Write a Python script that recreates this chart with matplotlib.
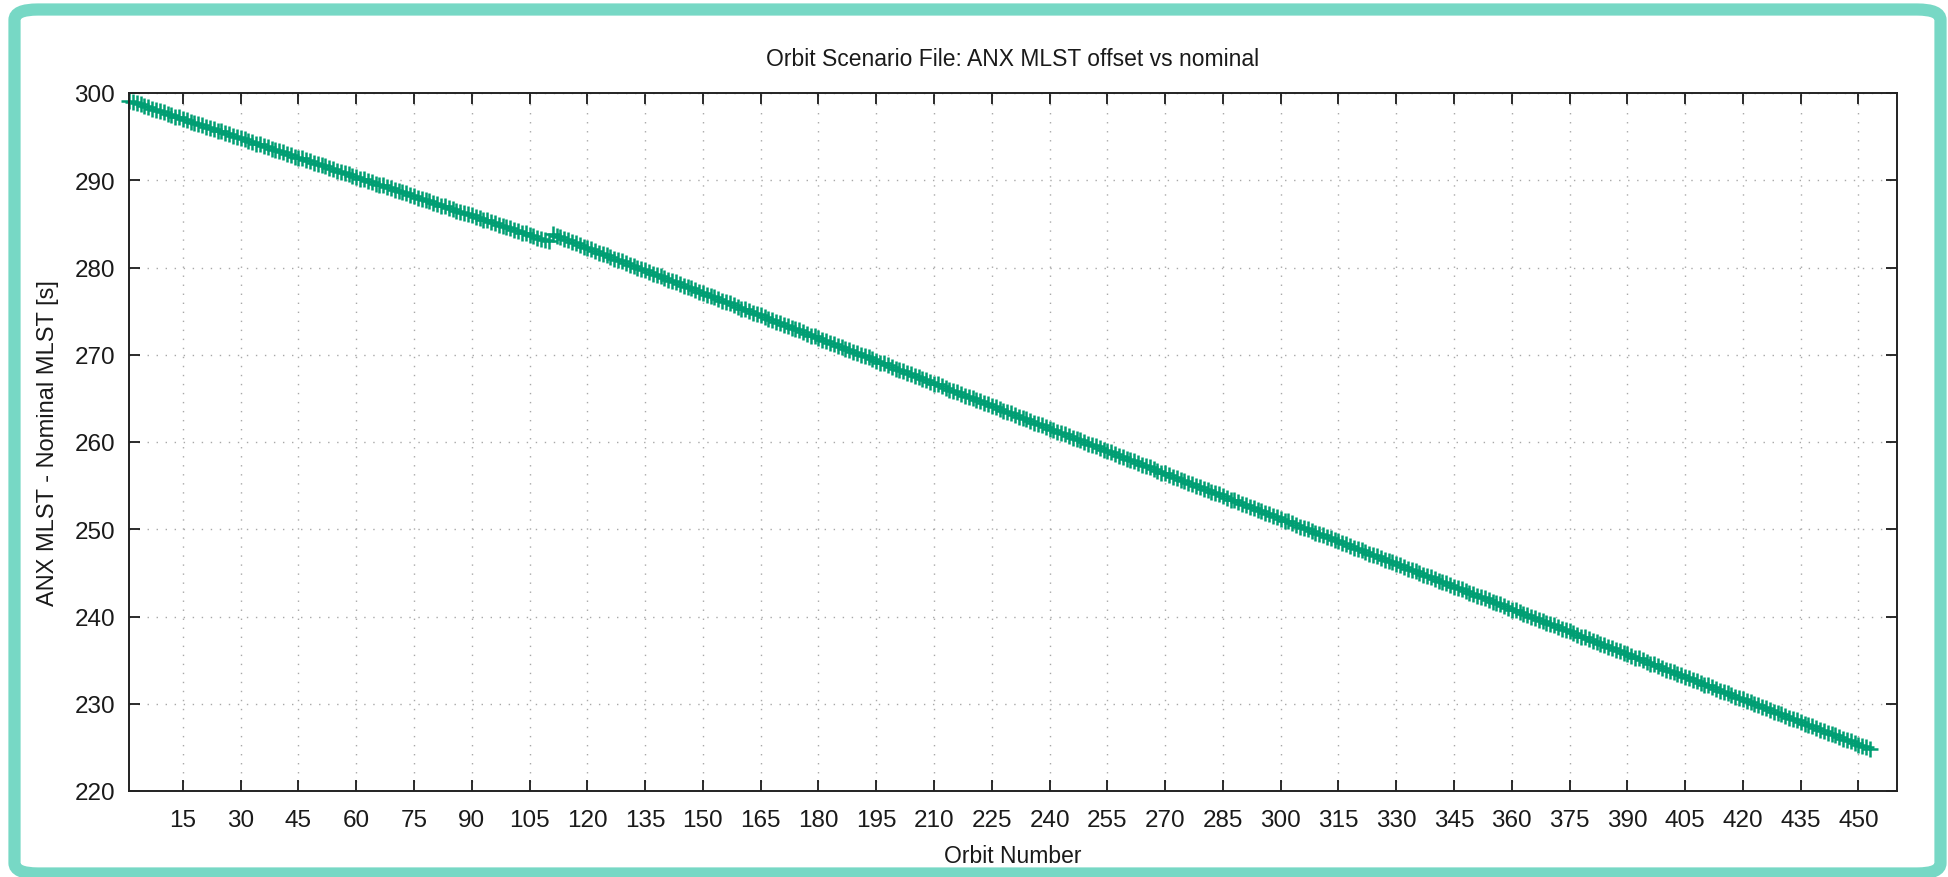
import matplotlib
matplotlib.use('Agg')
import matplotlib.pyplot as plt
from matplotlib.patches import FancyBboxPatch

plt.rcParams['font.family'] = ['Liberation Sans', 'DejaVu Sans']

# ANX MLST - nominal MLST [s], one value per orbit (orbits 1..453)
# first arc: orbits 1..110
offset_arc1 = [
    299.1, 299.0, 298.8, 298.7, 298.5, 298.4, 298.2, 298.1, 297.9, 297.8,
    297.6, 297.5, 297.3, 297.2, 297.0, 296.9, 296.7, 296.6, 296.4, 296.3,
    296.1, 296.0, 295.9, 295.7, 295.6, 295.4, 295.3, 295.1, 295.0, 294.8,
    294.7, 294.5, 294.4, 294.2, 294.1, 293.9, 293.8, 293.6, 293.5, 293.3,
    293.2, 293.0, 292.9, 292.7, 292.6, 292.5, 292.3, 292.2, 292.0, 291.9,
    291.7, 291.6, 291.4, 291.3, 291.1, 291.0, 290.8, 290.7, 290.5, 290.4,
    290.2, 290.1, 289.9, 289.8, 289.6, 289.5, 289.4, 289.2, 289.1, 288.9,
    288.8, 288.6, 288.5, 288.3, 288.2, 288.0, 287.9, 287.7, 287.6, 287.4,
    287.3, 287.1, 287.0, 286.8, 286.7, 286.5, 286.4, 286.2, 286.1, 286.0,
    285.8, 285.7, 285.5, 285.4, 285.2, 285.1, 284.9, 284.8, 284.6, 284.5,
    284.3, 284.2, 284.0, 283.9, 283.7, 283.6, 283.4, 283.3, 283.1, 283.0,
]
# second arc: orbits 111..453
offset_arc2 = [
    283.8, 283.6, 283.5, 283.3, 283.1, 282.9, 282.8, 282.6, 282.4, 282.2,
    282.1, 281.9, 281.7, 281.6, 281.4, 281.2, 281.0, 280.9, 280.7, 280.5,
    280.3, 280.2, 280.0, 279.8, 279.7, 279.5, 279.3, 279.1, 279.0, 278.8,
    278.6, 278.5, 278.3, 278.1, 277.9, 277.8, 277.6, 277.4, 277.2, 277.1,
    276.9, 276.7, 276.6, 276.4, 276.2, 276.0, 275.9, 275.7, 275.5, 275.3,
    275.2, 275.0, 274.8, 274.7, 274.5, 274.3, 274.1, 274.0, 273.8, 273.6,
    273.4, 273.3, 273.1, 272.9, 272.8, 272.6, 272.4, 272.2, 272.1, 271.9,
    271.7, 271.6, 271.4, 271.2, 271.0, 270.9, 270.7, 270.5, 270.3, 270.2,
    270.0, 269.8, 269.7, 269.5, 269.3, 269.1, 269.0, 268.8, 268.6, 268.4,
    268.3, 268.1, 267.9, 267.8, 267.6, 267.4, 267.2, 267.1, 266.9, 266.7,
    266.6, 266.4, 266.2, 266.0, 265.9, 265.7, 265.5, 265.3, 265.2, 265.0,
    264.8, 264.7, 264.5, 264.3, 264.1, 264.0, 263.8, 263.6, 263.4, 263.3,
    263.1, 262.9, 262.8, 262.6, 262.4, 262.2, 262.1, 261.9, 261.7, 261.5,
    261.4, 261.2, 261.0, 260.9, 260.7, 260.5, 260.3, 260.2, 260.0, 259.8,
    259.7, 259.5, 259.3, 259.1, 259.0, 258.8, 258.6, 258.4, 258.3, 258.1,
    257.9, 257.8, 257.6, 257.4, 257.2, 257.1, 256.9, 256.7, 256.5, 256.4,
    256.2, 256.0, 255.9, 255.7, 255.5, 255.3, 255.2, 255.0, 254.8, 254.6,
    254.5, 254.3, 254.1, 254.0, 253.8, 253.6, 253.4, 253.3, 253.1, 252.9,
    252.8, 252.6, 252.4, 252.2, 252.1, 251.9, 251.7, 251.5, 251.4, 251.2,
    251.0, 250.9, 250.7, 250.5, 250.3, 250.2, 250.0, 249.8, 249.6, 249.5,
    249.3, 249.1, 249.0, 248.8, 248.6, 248.4, 248.3, 248.1, 247.9, 247.7,
    247.6, 247.4, 247.2, 247.1, 246.9, 246.7, 246.5, 246.4, 246.2, 246.0,
    245.9, 245.7, 245.5, 245.3, 245.2, 245.0, 244.8, 244.6, 244.5, 244.3,
    244.1, 244.0, 243.8, 243.6, 243.4, 243.3, 243.1, 242.9, 242.7, 242.6,
    242.4, 242.2, 242.1, 241.9, 241.7, 241.5, 241.4, 241.2, 241.0, 240.8,
    240.7, 240.5, 240.3, 240.2, 240.0, 239.8, 239.6, 239.5, 239.3, 239.1,
    239.0, 238.8, 238.6, 238.4, 238.3, 238.1, 237.9, 237.7, 237.6, 237.4,
    237.2, 237.1, 236.9, 236.7, 236.5, 236.4, 236.2, 236.0, 235.8, 235.7,
    235.5, 235.3, 235.2, 235.0, 234.8, 234.6, 234.5, 234.3, 234.1, 233.9,
    233.8, 233.6, 233.4, 233.3, 233.1, 232.9, 232.7, 232.6, 232.4, 232.2,
    232.1, 231.9, 231.7, 231.5, 231.4, 231.2, 231.0, 230.8, 230.7, 230.5,
    230.3, 230.2, 230.0, 229.8, 229.6, 229.5, 229.3, 229.1, 228.9, 228.8,
    228.6, 228.4, 228.3, 228.1, 227.9, 227.7, 227.6, 227.4, 227.2, 227.0,
    226.9, 226.7, 226.5, 226.4, 226.2, 226.0, 225.8, 225.7, 225.5, 225.3,
    225.2, 225.0, 224.8,
]
offset = offset_arc1 + offset_arc2
orbit = list(range(1, len(offset) + 1))

x_ticks = list(range(15, 451, 15))
y_ticks = list(range(220, 301, 10))

fig = plt.figure(figsize=(19.49, 8.78), dpi=100)

# teal frame round the whole picture
frame = FancyBboxPatch((14.5 / 1949, 3.5 / 878), 1926 / 1949, 864 / 878,
                       boxstyle='round,pad=0,rounding_size=0.012',
                       transform=fig.transFigure, fill=False,
                       edgecolor='#77d8c5', linewidth=8.8)
fig.patches.append(frame)

ax = fig.add_axes([129 / 1949, 86 / 878, 1768 / 1949, 698 / 878])

ax.plot(orbit, offset, linestyle='none', marker='+', markersize=11,
        markeredgewidth=1.8, color='#009e73', clip_on=False)

ax.set_xlim(1, 460)
ax.set_ylim(220, 300)
ax.set_xticks(x_ticks)
ax.set_yticks(y_ticks)

ax.grid(True, color='#a8a8a8', linewidth=1, linestyle=(0, (1, 5.5)))
ax.tick_params(direction='in', length=8, width=1.3, top=True, right=True,
               labelsize=17.5, colors='#1a1a1a')
ax.tick_params(axis='x', pad=13)
ax.tick_params(axis='y', pad=10)
for s in ax.spines.values():
    s.set_linewidth(1.4)
    s.set_color('#222222')

ax.set_xlabel('Orbit Number', fontsize=16.5, labelpad=9, color='#1a1a1a')
ax.set_ylabel('ANX MLST - Nominal MLST [s]', fontsize=17, labelpad=11, color='#1a1a1a')
ax.set_title('Orbit Scenario File: ANX MLST offset vs nominal', fontsize=16.5,
             pad=20, color='#1a1a1a')

fig.savefig('out.png', dpi=100)
